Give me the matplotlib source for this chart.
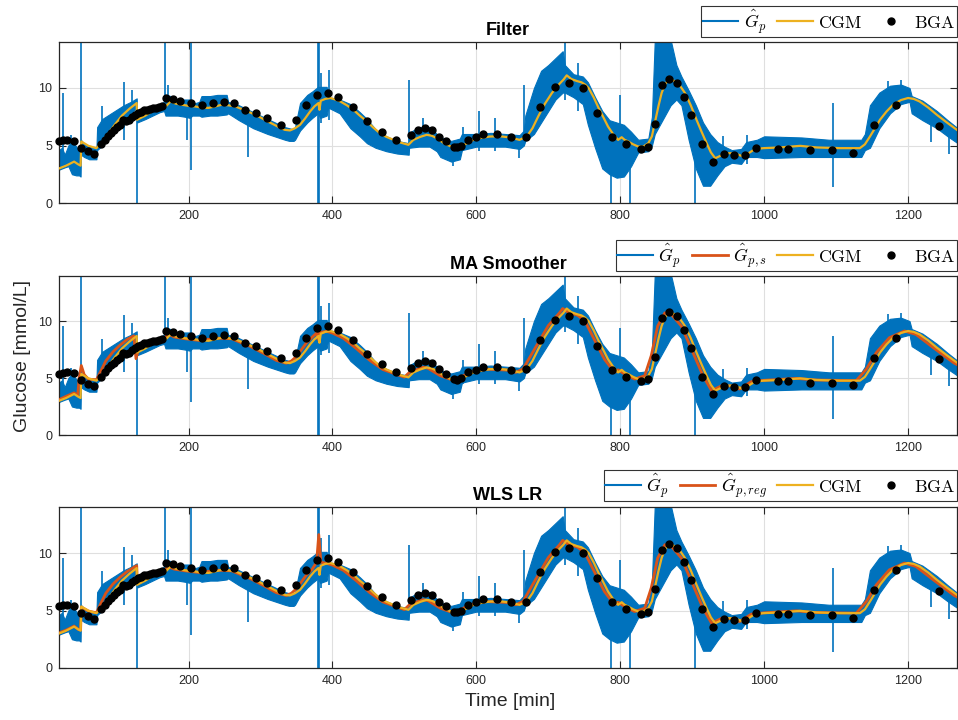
import matplotlib
matplotlib.use("Agg")
import matplotlib.pyplot as plt
from matplotlib.lines import Line2D

plt.rcParams['font.family'] = ['Liberation Sans', 'DejaVu Sans']
plt.rcParams['mathtext.fontset'] = 'cm'

# ---------------- data ----------------
# CGM trace
cgm_t = [20, 30, 41, 47, 50, 51, 61, 72, 80, 89, 98, 107.5, 118, 128, 128.5, 140, 149, 158, 165, 170,
         175, 182, 191, 200, 209, 218, 228, 237, 246, 255, 265, 279, 293, 310, 327, 334, 341, 348, 355,
         362, 369, 375, 380.6, 382, 383.8, 390, 397, 404, 411, 420, 429, 438, 448, 457, 466, 475, 485,
         495, 505.6, 512.5, 522, 531, 538, 545, 555, 565, 573, 584, 596, 608, 619, 633, 647, 660, 670,
         678, 686, 695, 705, 713, 721, 725.6, 732, 740, 746, 751, 756, 763, 770, 777, 783, 790, 797,
         802, 806, 811, 818, 825, 832, 839, 844, 848, 853, 857.5, 862, 867, 871, 876, 883, 890, 898,
         906, 913, 920, 926, 932, 939, 946, 953, 960, 971, 980, 987, 999, 1010, 1022, 1036, 1050,
         1062, 1073, 1090, 1105, 1120, 1133, 1140, 1147, 1154, 1161, 1170, 1179, 1190, 1200, 1208,
         1216, 1228, 1240, 1255, 1269]
cgm_v = [3.0, 3.25, 3.6, 3.35, 3.25, 5.35, 4.97, 4.77, 5.3, 6.07, 6.85, 7.6, 8.2, 8.69, 7.24, 7.6,
         7.96, 8.12, 8.25, 8.5, 8.83, 8.65, 8.54, 8.45, 8.4, 8.3, 8.27, 8.4, 8.54, 8.5, 8.4, 8.05,
         7.67, 7.1, 6.55, 6.36, 6.31, 6.5, 6.8, 7.35, 7.96, 8.4, 8.69, 8.1, 8.89, 9.05, 9.13, 9.0,
         8.83, 8.5, 8.11, 7.6, 7.09, 6.55, 6.07, 5.75, 5.49, 5.25, 5.06, 5.49, 5.75, 5.93, 5.85,
         5.64, 5.2, 4.9, 4.77, 5.1, 5.49, 5.68, 5.78, 5.8, 5.7, 5.49, 5.78, 6.5, 7.53, 8.6, 9.56,
         10.2, 10.72, 11.1, 10.78, 10.6, 10.5, 10.3, 10.0, 9.2, 8.25, 7.4, 6.65, 6.0, 5.49, 5.72,
         5.5, 5.35, 5.1, 4.91, 4.9, 5.2, 5.8, 6.95, 8.4, 9.56, 10.3, 10.72, 10.75, 10.58, 10.2,
         9.56, 8.5, 7.24, 6.2, 5.2, 4.4, 3.89, 4.1, 4.33, 4.33, 4.3, 4.04, 4.4, 4.68, 4.77, 4.8,
         4.83, 4.9, 4.97, 4.9, 4.83, 4.8, 4.77, 4.77, 4.77, 5.1, 5.78, 6.5, 7.24, 7.95, 8.54, 8.95,
         9.13, 9.05, 8.83, 8.3, 7.67, 6.95, 6.31]

# BGA samples
bga_t = [20, 25.5, 31.1, 41.3, 51, 60.2, 69, 78.3, 83.4, 87.5, 91.7, 95.9, 100, 104.2, 108.4, 112.5,
         117.2, 121.3, 125.5, 129.7, 133.8, 138, 142.2, 146.3, 150.5, 154.7, 158.8, 163.5, 168.6,
         178.8, 188.5, 203.8, 218.6, 233.4, 248.7, 263.9, 278.8, 293.6, 308.4, 328.8, 348.7, 363.5,
         378.8, 393.6, 408.4, 428.3, 448.2, 468.6, 488.9, 508.8, 519, 528.8, 538.9, 548.7, 558.4,
         568.6, 573.2, 578.8, 588.5, 599.1, 608.8, 628.3, 648.2, 668.6, 688.5, 708.8, 728.3, 748.2,
         768.1, 788.5, 807.9, 828.3, 838.5, 848.7, 858.4, 868.1, 878.3, 888.5, 898.2, 913, 928.3,
         943.6, 958.4, 973.7, 988.5, 1018.6, 1033.8, 1063.5, 1093.6, 1123.7, 1153.3, 1182.9, 1243.1]
bga_v = [5.35, 5.46, 5.49, 5.41, 4.8, 4.48, 4.27, 5.09, 5.49, 5.84, 6.13, 6.36, 6.57, 6.74, 7.18,
         7.12, 7.24, 7.47, 7.64, 7.82, 7.93, 8.05, 8.11, 8.17, 8.22, 8.25, 8.31, 8.4, 9.1, 9.01, 8.89,
         8.72, 8.49, 8.69, 8.81, 8.69, 8.11, 7.79, 7.38, 6.8, 7.21, 8.49, 9.42, 9.59, 9.21, 8.31,
         7.09, 6.19, 5.52, 5.87, 6.31, 6.51, 6.31, 5.78, 5.38, 4.91, 4.85, 5.0, 5.52, 5.73, 5.99,
         5.99, 5.7, 5.78, 8.31, 10.11, 10.43, 10.0, 7.82, 5.7, 5.12, 4.71, 4.91, 6.89, 10.23, 10.81,
         10.43, 9.21, 7.61, 5.12, 3.6, 4.3, 4.18, 4.18, 4.82, 4.71, 4.71, 4.59, 4.59, 4.39, 6.8,
         8.49, 6.68]

# Estimated plasma glucose (noisy): band envelope + isolated spikes
gp_t = [20, 24, 28, 33, 38, 44, 48, 50, 50.5, 55, 62, 72, 73, 80, 90, 100, 110, 120, 128, 128.5,
        140, 150, 160, 166, 168, 175, 185, 195, 202, 205, 215, 218, 230, 240, 253, 255, 270, 290,
        310, 334, 340, 346, 348, 355, 365, 372, 380, 383, 392, 394, 410, 425, 438, 448, 460, 475,
        490, 506, 506.5, 520, 535, 545, 550, 565, 577, 580, 600, 620, 640, 660, 666, 668, 680, 690,
        700, 710, 720, 723, 735, 748, 755, 765, 775, 785, 795, 805, 815, 825, 839, 844, 848, 870,
        878, 885, 895, 905, 915, 925, 935, 945, 955, 968, 975, 990, 1000, 1052, 1090, 1135, 1140,
        1147, 1160, 1175, 1190, 1202, 1205, 1220, 1240, 1255, 1269]
gp_lo = [2.9, 3.0, 3.1, 3.2, 2.5, 2.4, 2.4, 2.3, 4.2, 4.0, 3.8, 3.8, 4.6, 5.0, 5.8, 6.5, 7.2, 7.8,
         8.3, 7.0, 7.3, 7.6, 7.9, 8.0, 7.6, 7.6, 7.6, 7.5, 7.4, 7.6, 7.6, 7.5, 7.6, 7.6, 7.7, 7.8,
         7.2, 6.5, 6.0, 5.5, 5.4, 5.4, 5.5, 6.3, 7.0, 7.4, 7.8, 7.4, 7.6, 8.3, 7.8, 6.5, 5.8, 5.2,
         4.8, 4.5, 4.3, 4.2, 4.8, 4.9, 4.9, 4.5, 4.0, 3.6, 3.8, 4.6, 4.9, 4.9, 4.9, 4.7, 5.0, 5.4,
         6.0, 7.0, 8.0, 9.0, 9.6, 9.6, 9.2, 8.6, 6.8, 4.8, 3.0, 2.5, 2.2, 2.3, 3.2, 4.4, 4.5, 5.0,
         6.0, 8.5, 9.0, 8.5, 5.5, 3.0, 1.5, 1.5, 2.4, 3.2, 3.5, 3.4, 4.0, 4.0, 3.9, 4.0, 4.0, 4.0,
         4.6, 4.8, 6.5, 7.8, 8.6, 8.8, 7.8, 7.2, 6.5, 5.8, 5.2]
gp_hi = [4.6, 4.8, 4.2, 5.0, 5.4, 4.9, 4.5, 4.2, 5.5, 5.1, 4.9, 4.7, 6.6, 7.3, 7.7, 8.1, 8.5, 8.8,
         9.1, 7.6, 8.0, 8.4, 8.6, 8.8, 9.4, 9.3, 9.0, 9.0, 9.0, 8.6, 8.8, 9.3, 9.3, 9.4, 9.4, 8.8,
         8.5, 7.9, 7.3, 6.6, 6.5, 6.4, 6.6, 8.7, 9.4, 9.7, 10.1, 10.1, 10.1, 9.2, 9.0, 8.6, 7.9, 7.3,
         6.4, 5.8, 5.4, 5.2, 6.1, 6.6, 6.6, 6.0, 5.7, 5.4, 5.6, 6.0, 6.0, 6.1, 6.0, 5.9, 6.3, 7.6,
         10.0, 11.5, 12.0, 12.6, 13.2, 12.0, 11.2, 11.0, 10.5, 9.2, 8.0, 7.2, 7.0, 6.8, 6.2, 5.5,
         5.6, 7.5, 14.2, 14.2, 12.0, 11.0, 9.8, 8.5, 7.0, 6.0, 5.3, 4.9, 4.6, 4.7, 5.3, 5.5, 5.8,
         5.7, 5.5, 5.5, 6.0, 8.5, 9.6, 10.2, 10.3, 10.0, 9.3, 8.9, 8.0, 7.2, 6.5]
spike_t = [20.5, 25, 37, 50, 80, 109.7, 110.5, 121.4, 128.3, 167.5, 171, 197.8, 203.7, 282.5,
           380.6, 382, 383.5, 395.8, 506.5, 526.4, 568, 582, 603.8, 626, 659.3, 666.7, 723, 741.7,
           787, 799.6, 813.5, 903.8, 943, 976, 1095, 1172, 1190, 1232, 1256.5]
spike_lo = [3.0, 3.2, 3.0, 3.5, 5.5, 6.5, 5.5, 7.0, 0.0, 8.0, 8.0, 5.5, 2.9, 4.0, 0.0, 0.0, 7.0,
            7.2, 5.0, 5.0, 3.2, 4.5, 4.5, 4.5, 3.9, 5.0, 9.0, 8.0, 0.0, 4.5, 0.0, 0.0, 3.5, 3.4,
            1.4, 8.0, 8.5, 5.3, 4.3]
spike_hi = [7.5, 9.6, 5.9, 14.5, 8.45, 10.5, 7.5, 9.8, 8.5, 14.5, 10.3, 8.5, 14.5, 7.5, 14.5,
            14.5, 11.3, 11.6, 10.7, 7.4, 5.0, 6.6, 7.96, 7.4, 5.5, 10.3, 14.5, 12.2, 6.5, 9.4,
            5.5, 7.5, 5.8, 5.9, 8.7, 10.6, 10.7, 7.8, 7.0]

# MA smoother output
gps_t = [20, 30, 41, 46, 48, 51, 55, 61, 72, 78, 85, 95, 105, 115, 124, 127, 130, 140, 150, 160,
         166, 171, 180, 195, 215, 240, 260, 285, 305, 322, 336, 343, 350, 357, 364, 372, 378, 380,
         382, 392, 400, 415, 433, 452, 470, 490, 500, 507, 526, 533, 550, 568, 579, 591, 614, 642,
         655, 665, 681, 700, 716, 720, 727, 741, 751, 765, 778, 792, 797, 806, 820, 834, 843, 852,
         862, 871, 885, 901, 915, 927, 941, 955, 966, 982, 1000, 1045, 1070, 1128, 1142, 1156, 1174,
         1195, 1211, 1235, 1264, 1269]
gps_v = [3.1, 3.4, 3.7, 3.5, 5.0, 6.1, 5.3, 4.9, 4.85, 5.6, 6.5, 7.3, 7.9, 8.4, 8.7, 6.7, 7.4, 7.8,
         8.1, 8.3, 8.4, 8.9, 8.6, 8.45, 8.3, 8.5, 8.45, 7.8, 7.15, 6.55, 6.3, 6.5, 6.9, 7.5, 8.1, 8.6,
         8.95, 8.4, 9.0, 9.1, 8.95, 8.5, 7.6, 6.55, 5.75, 5.3, 5.08, 5.5, 5.95, 5.85, 5.2, 4.8, 5.1,
         5.5, 5.78, 5.7, 5.5, 5.8, 7.55, 9.6, 10.75, 11.1, 10.8, 10.5, 10.0, 8.25, 6.65, 5.5, 5.72,
         5.35, 4.91, 5.2, 6.95, 9.56, 10.72, 10.58, 9.56, 7.24, 5.2, 3.89, 4.33, 4.3, 4.04, 4.68,
         4.8, 4.97, 4.83, 4.77, 5.78, 7.24, 8.54, 9.13, 8.83, 7.67, 6.31, 6.15]

# WLS LR output
gpr_t = [20, 30, 41, 47, 50, 51, 61, 72, 78, 85, 95, 105, 115, 124, 128, 129, 140, 150, 160, 166,
         171, 180, 195, 215, 240, 260, 285, 305, 322, 336, 343, 350, 357, 364, 372, 378, 381, 384,
         392, 400, 415, 433, 452, 470, 490, 500, 507, 526, 533, 550, 568, 579, 591, 614, 642, 655,
         665, 681, 700, 716, 720, 727, 741, 751, 765, 778, 792, 797, 806, 820, 834, 843, 852, 862,
         871, 885, 901, 915, 927, 941, 955, 966, 982, 1000, 1045, 1070, 1128, 1142, 1156, 1174,
         1195, 1211, 1235, 1264, 1269]
gpr_v = [3.05, 3.3, 3.65, 3.35, 3.3, 5.3, 4.95, 4.8, 5.6, 6.5, 7.3, 7.9, 8.4, 8.75, 8.9, 7.3, 7.7,
         8.05, 8.25, 8.35, 8.85, 8.6, 8.45, 8.3, 8.5, 8.45, 7.8, 7.15, 6.55, 6.3, 6.5, 6.9, 7.5,
         8.1, 8.6, 9.2, 11.6, 9.2, 9.1, 8.95, 8.5, 7.6, 6.55, 5.75, 5.3, 5.08, 5.5, 5.95, 5.85, 5.2,
         4.8, 5.1, 5.5, 5.78, 5.7, 5.5, 5.8, 7.55, 9.6, 10.75, 11.1, 10.8, 10.5, 10.0, 8.25, 6.65,
         5.5, 5.72, 5.35, 4.91, 5.2, 6.95, 9.56, 10.72, 10.58, 9.56, 7.24, 5.2, 3.89, 4.33, 4.3,
         4.04, 4.68, 4.8, 4.97, 4.83, 4.77, 5.78, 7.24, 8.54, 9.13, 8.83, 7.67, 6.31, 6.15]

titles = ["Filter", "MA Smoother", "WLS LR"]
x_ticks = [200, 400, 600, 800, 1000, 1200]
y_ticks = [0, 5, 10]

# ---------------- style ----------------
BLUE = "#0072BD"
RED = "#D95319"
YEL = "#EDB120"
AX_COL = "#262626"

fig = plt.figure(figsize=(9.58, 7.2), dpi=100)
W, H = 958.0, 720.0
ax_px = [(42, 203), (275.5, 435), (507, 668)]
left, right = 59, 957

red_series = [None, (gps_t, gps_v, r"$\hat{G}_{p,s}$"), (gpr_t, gpr_v, r"$\hat{G}_{p,reg}$")]
legend_bottom_px = [37, 271, 501]

for i, (top, bot) in enumerate(ax_px):
    ax = fig.add_axes([left / W, 1 - bot / H, (right - left) / W, (bot - top) / H])
    ax.fill_between(gp_t, gp_lo, gp_hi, color=BLUE, linewidth=0.8, edgecolor=BLUE, zorder=2)
    ax.vlines(spike_t, spike_lo, spike_hi, color=BLUE, linewidth=1.2, zorder=2)
    handles = [Line2D([], [], color=BLUE, lw=1.5)]
    labels = [r"$\hat{G}_p$"]
    if red_series[i] is not None:
        rt, rv, rl = red_series[i]
        ax.plot(rt, rv, color=RED, lw=2.0, zorder=3)
        handles.append(Line2D([], [], color=RED, lw=2.0))
        labels.append(rl)
    ax.plot(cgm_t, cgm_v, color=YEL, lw=1.6, zorder=4)
    handles.append(Line2D([], [], color=YEL, lw=1.6))
    labels.append(r"$\mathrm{CGM}$")
    ax.plot(bga_t, bga_v, 'o', color='black', ms=5, zorder=5, clip_on=False)
    handles.append(Line2D([], [], color='black', marker='o', ls='none', ms=5))
    labels.append(r"$\mathrm{BGA}$")

    ax.set_xlim(20, 1268)
    ax.set_ylim(0, 14)
    ax.set_xticks(x_ticks)
    ax.set_yticks(y_ticks)
    ax.grid(True, color="#DFDFDF", lw=0.8, zorder=0)
    ax.set_axisbelow(True)
    ax.tick_params(direction='in', top=True, right=True, length=5, width=0.8,
                   colors=AX_COL, labelsize=9, labelcolor=AX_COL, pad=5)
    for s in ax.spines.values():
        s.set_color(AX_COL)
        s.set_linewidth(0.9)
    ax.set_title(titles[i], fontweight='bold', fontsize=13, pad=5)

    ly = legend_bottom_px[i]
    leg = fig.legend(handles, labels, loc='lower right', ncol=len(labels),
                     bbox_to_anchor=(right / W, 1 - ly / H), fontsize=12.8, frameon=True,
                     fancybox=False, edgecolor='black', handlelength=2.0, handletextpad=0.3,
                     columnspacing=0.6, borderpad=0.08, borderaxespad=0.0)
    leg.get_frame().set_linewidth(0.8)

fig.text(23 / W, 1 - 356 / H, "Glucose [mmol/L]", rotation=90, ha='center', va='center',
         fontsize=14, color=AX_COL)
fig.text(510 / W, 1 - 702 / H, "Time [min]", ha='center', va='center', fontsize=14, color=AX_COL)

fig.savefig("out.png", dpi=100)
